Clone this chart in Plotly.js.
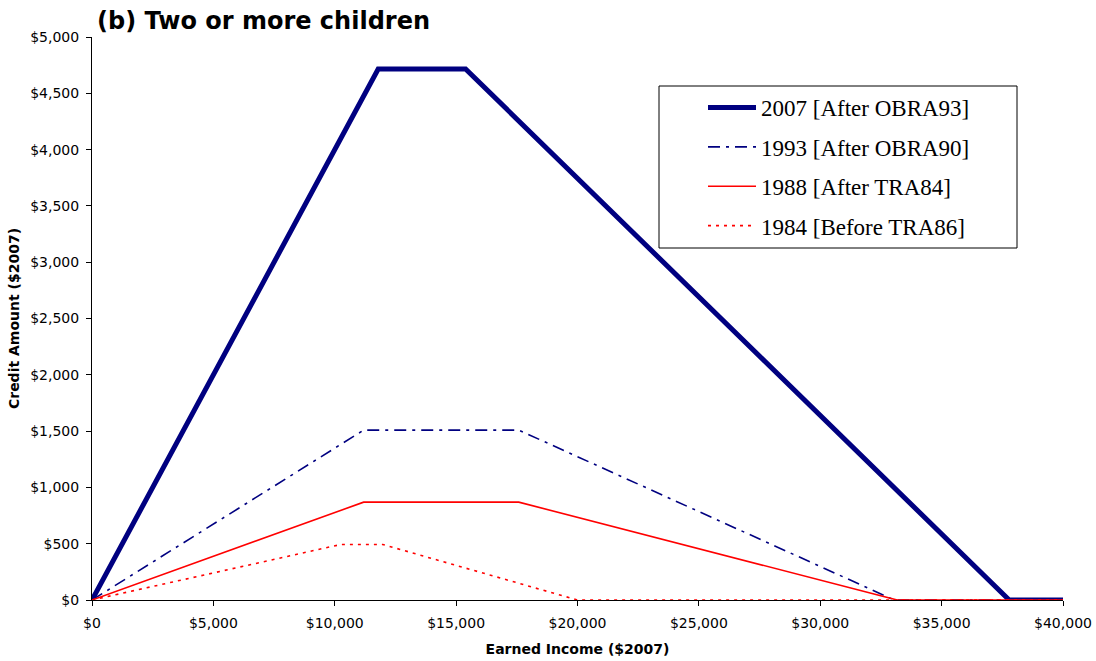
<!DOCTYPE html>
<html>
<head>
<meta charset="utf-8">
<script src="https://cdn.plot.ly/plotly-3.0.1.min.js"></script>
<style>html,body{margin:0;padding:0;background:#fff;}#chart{width:1096px;height:661px;}</style>
</head>
<body>
<div id="chart"></div>
<script>
// Earned income ($2007) breakpoints and credit amounts ($2007)
const income2007 = [0, 11790, 15390, 37783, 40000];
const credit2007 = [0, 4716, 4716, 0, 0];

const income1993 = [0, 11190, 17580, 33050, 40000];
const credit1993 = [0, 1509, 1509, 0, 0];

const income1988 = [0, 11190, 17580, 33170, 40000];
const credit1988 = [0, 869, 869, 0, 0];

const income1984 = [0, 10250, 11980, 20000, 40000];
const credit1984 = [0, 493, 493, 0, 0];

const seriesNames = ['2007 [After OBRA93]', '1993 [After OBRA90]', '1988 [After TRA84]', '1984 [Before TRA86]'];

// Tick positions and labels
const xTickVals = [0, 5000, 10000, 15000, 20000, 25000, 30000, 35000, 40000];
const xTickText = ['$0', '$5,000', '$10,000', '$15,000', '$20,000', '$25,000', '$30,000', '$35,000', '$40,000'];
const yTickVals = [0, 500, 1000, 1500, 2000, 2500, 3000, 3500, 4000, 4500, 5000];
const yTickText = ['$0', '$500', '$1,000', '$1,500', '$2,000', '$2,500', '$3,000', '$3,500', '$4,000', '$4,500', '$5,000'];

const traces = [
  {x: income2007, y: credit2007, name: seriesNames[0], legendgroup: 'a', mode: 'lines',
   line: {color: '#000080', width: 5}, cliponaxis: false},
  {x: income1993, y: credit1993, name: seriesNames[1], legendgroup: 'b', mode: 'lines',
   line: {color: '#000080', width: 1.6, dash: '12px,6px,3px,6px'}, cliponaxis: false},
  {x: income1988, y: credit1988, name: seriesNames[2], legendgroup: 'c', mode: 'lines',
   line: {color: '#ff0000', width: 1.6}, cliponaxis: false},
  {x: income1984, y: credit1984, name: seriesNames[3], legendgroup: 'd', mode: 'lines',
   line: {color: '#ff0000', width: 1.6, dash: '3px,5px'}, cliponaxis: false}
];

const sans = '"DejaVu Sans", Arial, sans-serif';

const layout = {
  width: 1096, height: 661,
  paper_bgcolor: '#fff', plot_bgcolor: '#fff',
  margin: {l: 92, r: 33, t: 37, b: 61},
  font: {family: sans, color: '#000', size: 14},
  title: {text: '<b>(b) Two or more children</b>', x: 97/1096, xanchor: 'left', xref: 'container',
          y: 1 - 21/661, yanchor: 'middle', yref: 'container',
          font: {family: sans, size: 24, color: '#000'}},
  xaxis: {range: [0, 40000], tickmode: 'array', tickvals: xTickVals, ticktext: xTickText,
          showgrid: false, zeroline: false,
          showline: true, linecolor: '#000', linewidth: 1, ticks: 'outside', ticklen: 5, tickcolor: '#000',
          ticklabelstandoff: 5,
          tickfont: {family: sans, size: 14, color: '#000'}, fixedrange: true,
          title: {text: '<b>Earned Income ($2007)</b>', font: {family: sans, size: 14}, standoff: 14}},
  yaxis: {range: [0, 5000], tickmode: 'array', tickvals: yTickVals, ticktext: yTickText,
          showgrid: false, zeroline: false,
          showline: true, linecolor: '#000', linewidth: 1, ticks: 'outside', ticklen: 5, tickcolor: '#000',
          ticklabelstandoff: 4,
          tickfont: {family: sans, size: 14, color: '#000'}, fixedrange: true,
          title: {text: '<b>Credit Amount ($2007)</b>', font: {family: sans, size: 14}, standoff: 7}},
  legend: {x: (703-92)/971, y: (600-86)/563, xanchor: 'left', yanchor: 'top',
           bgcolor: 'rgba(0,0,0,0)', borderwidth: 0, traceorder: 'grouped', tracegroupgap: 6.5,
           itemwidth: 48,
           font: {family: '"Liberation Serif", "Times New Roman", serif', size: 23, color: '#000'}},
  shapes: [{type: 'rect', xref: 'paper', yref: 'paper',
            x0: (659-92)/971, x1: (1017-92)/971, y0: (600-248)/563, y1: (600-86)/563,
            line: {color: '#000', width: 1}, fillcolor: 'rgba(0,0,0,0)'}],
  showlegend: true
};

Plotly.newPlot('chart', traces, layout, {displayModeBar: false, staticPlot: true});
</script>
</body>
</html>
